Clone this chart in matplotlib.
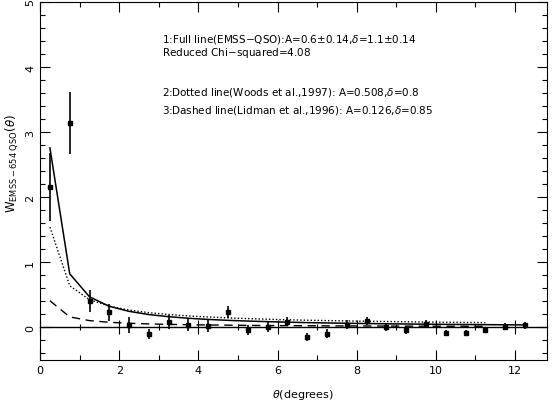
import numpy as np
import matplotlib
matplotlib.use("Agg")
import matplotlib.pyplot as plt
from matplotlib.ticker import MultipleLocator

# angular bins (degrees)
theta = [0.25, 0.75, 1.25, 1.75, 2.25, 2.75, 3.25, 3.75, 4.25, 4.75, 5.25, 5.75,
         6.25, 6.75, 7.25, 7.75, 8.25, 8.75, 9.25, 9.75, 10.25, 10.75, 11.25, 11.75, 12.25]

# measured cross-correlation and errors
w_obs = [2.16, 3.14, 0.40, 0.23, 0.04, -0.10, 0.08, 0.04, 0.02, 0.24, -0.04, 0.01,
         0.09, -0.15, -0.10, 0.04, 0.10, 0.01, -0.04, 0.05, -0.09, -0.09, -0.04, 0.01, 0.03]
w_err = [0.52, 0.47, 0.17, 0.13, 0.12, 0.08, 0.11, 0.10, 0.09, 0.09, 0.07, 0.08,
         0.07, 0.06, 0.07, 0.07, 0.06, 0.06, 0.06, 0.06, 0.05, 0.05, 0.05, 0.05, 0.05]

# model curves
w_full = [2.757, 0.823, 0.469, 0.324, 0.246, 0.197, 0.164, 0.140, 0.122, 0.108, 0.097, 0.088,
          0.080, 0.073, 0.068, 0.063, 0.059, 0.055, 0.052, 0.049, 0.046, 0.044, 0.042, 0.040, 0.038]
w_woods = [1.540, 0.639, 0.425, 0.325, 0.266, 0.226, 0.198, 0.176, 0.160, 0.146, 0.135, 0.125,
           0.117, 0.110, 0.104, 0.099, 0.094, 0.090, 0.086, 0.082, 0.079, 0.076, 0.073]
w_lidman = [0.409, 0.161, 0.104, 0.078, 0.063, 0.053, 0.046, 0.041, 0.037, 0.034, 0.031, 0.028,
            0.027, 0.025, 0.023, 0.022, 0.021, 0.020, 0.019, 0.018, 0.017, 0.017, 0.016]

notes = [
    (4.43, r"1:Full line(EMSS$-$QSO):A=0.6$\pm$0.14,$\delta$=1.1$\pm$0.14"),
    (4.23, r"Reduced Chi$-$squared=4.08"),
    (3.63, r"2:Dotted line(Woods et al.,1997): A=0.508,$\delta$=0.8"),
    (3.35, r"3:Dashed line(Lidman et al.,1996): A=0.126,$\delta$=0.85"),
]

plt.rcParams['font.family'] = ['DejaVu Sans']
plt.rcParams['mathtext.fontset'] = 'dejavusans'

fig = plt.figure(figsize=(5.52, 4.06), dpi=100)
ax = fig.add_axes([0.0725, 0.111, 0.918, 0.882])

ax.plot(theta, w_full, color='black', lw=1.1)
ax.plot(theta[:len(w_woods)], w_woods, color='black', lw=1.0, ls=(0, (1, 1.5)))
ax.plot(theta[:len(w_lidman)], w_lidman, color='black', lw=1.0, ls=(0, (6, 4)))
ax.errorbar(theta, w_obs, yerr=w_err, fmt='s', color='black', ms=3, elinewidth=1.2, capsize=0)

ax.set_xlim(0, 12.8)
ax.set_ylim(-0.5, 5)
ax.xaxis.set_major_locator(MultipleLocator(2))
ax.xaxis.set_minor_locator(MultipleLocator(1))
ax.yaxis.set_major_locator(MultipleLocator(1))
ax.yaxis.set_minor_locator(MultipleLocator(0.2))
ax.tick_params(which='both', direction='in', top=True, right=True, labelsize=8, width=0.8)
ax.tick_params(which='major', length=7)
ax.tick_params(which='minor', length=3.5)
for lab in ax.get_yticklabels():
    lab.set_rotation(90)
    lab.set_va('center')

# zero line with crossing ticks
zero = ax.secondary_xaxis(0.5 / 5.5)
zero.xaxis.set_major_locator(MultipleLocator(2))
zero.xaxis.set_minor_locator(MultipleLocator(1))
zero.tick_params(which='both', direction='inout', labelbottom=False, width=0.8)
zero.tick_params(which='major', length=10)
zero.tick_params(which='minor', length=5)
zero.spines['bottom'].set_linewidth(1.0)

for y, s in notes:
    ax.text(3.08, y, s, fontsize=7.5, va='center', ha='left')

ax.set_xlabel(r"$\theta$(degrees)", fontsize=8)
ax.xaxis.set_label_coords(0.518, -0.075)
ax.set_ylabel(r"W$_{\mathrm{EMSS-654\ QSO}}$($\theta$)", fontsize=8.5, va='center')
ax.yaxis.set_label_coords(-0.056, 0.55)

fig.savefig("out.png", dpi=100)
